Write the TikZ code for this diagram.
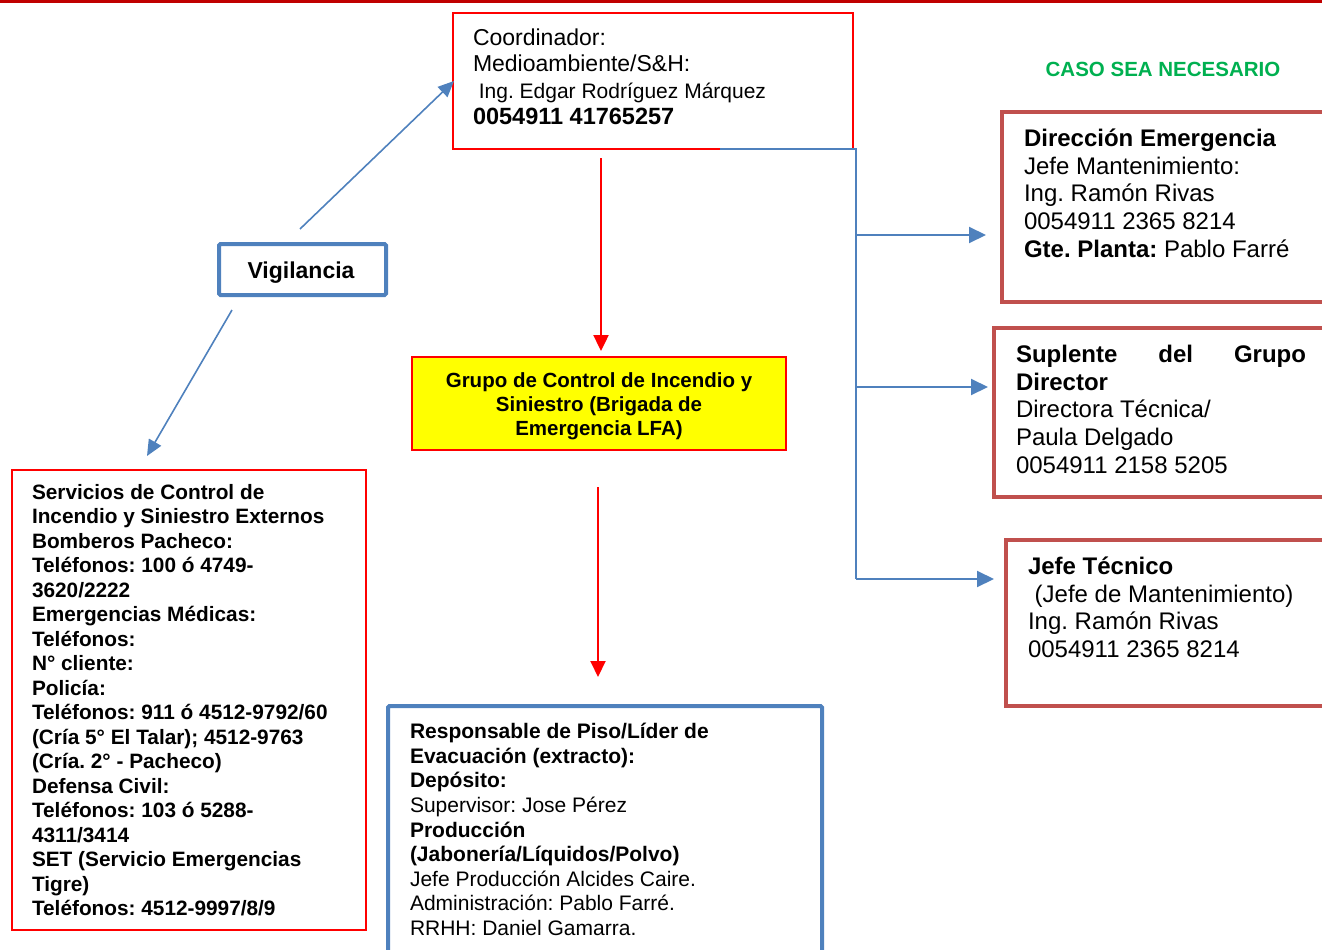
\documentclass[tikz,border=0pt]{standalone}
\usepackage{fontspec}
\setmainfont{Liberation Sans}
\usetikzlibrary{arrows.meta}
\definecolor{barred}{HTML}{C00000}
\definecolor{pure}{HTML}{FF0000}
\definecolor{ofblue}{HTML}{4F81BD}
\definecolor{ofred}{HTML}{C0504D}
\definecolor{ofgreen}{HTML}{00B050}
\definecolor{ofyellow}{HTML}{FFFF00}
\frenchspacing
\begin{document}
\begin{tikzpicture}[x=1pt,y=-1pt,
  box/.style={draw, rectangle, inner sep=0pt, outer sep=0pt, anchor=north west},
  redthin/.style={box, draw=pure, line width=1.6pt},
  redthick/.style={box, draw=ofred, line width=4pt},
  bluethick/.style={box, draw=ofblue, line width=4pt, rounded corners=1.5pt},
  txt/.style={inner sep=0pt, outer sep=0pt, anchor=north west, align=left},
  bconn/.style={draw=ofblue, line width=2pt},
  barrow/.style={draw=ofblue, line width=2pt, -{Triangle[length=17pt,width=16pt]}, fill=ofblue},
  varrow/.style={draw=ofblue, line width=1.6pt, -{Triangle[length=16pt,width=14pt]}, fill=ofblue},
  rarrow/.style={draw=pure, line width=2.4pt, -{Triangle[length=16pt,width=15pt]}, fill=pure}
]
\useasboundingbox (0,0) rectangle (1322,950);
\clip (0,0) rectangle (1322,950);

% top bar
\fill[barred] (0,0) rectangle (1322,3);

% boxes
\node[redthin, minimum width=400pt, minimum height=136pt] (coord) at (453,13) {};
\node[bluethick, minimum width=167pt, minimum height=51pt] (vig) at (219,244) {};
\node[redthin, fill=ofyellow, line width=2pt, minimum width=374pt, minimum height=93pt] (grupo) at (412,357) {};
\node[redthin, minimum width=354pt, minimum height=460pt] (ext) at (12,470) {};
\node[bluethick, minimum width=434pt, minimum height=260pt] (resp) at (388,706) {};
\node[redthick, minimum width=340pt, minimum height=190pt] (dir) at (1002,112) {};
\node[redthick, minimum width=350pt, minimum height=169pt] (sup) at (994,328) {};
\node[redthick, minimum width=340pt, minimum height=166pt] (jefe) at (1006,540) {};

% texts
\node[txt, font=\fontsize{23}{26.5}\selectfont] (coordtxt) at (473,26.7)
  {\strut Coordinador:\\
   Medioambiente/S\&H:\\
   {\fontsize{21}{26.5}\selectfont\ Ing. Edgar Rodríguez Márquez}\\
   {\fontsize{23.5}{26.5}\selectfont\bfseries 0054911 41765257}};

\node[anchor=base, inner sep=0pt, font=\fontsize{23}{27}\selectfont\bfseries] (vigtxt) at (301,278.3) {Vigilancia};

\node[anchor=base, inner sep=0pt, text=ofgreen, font=\fontsize{20.5}{24}\selectfont\bfseries] (caso) at (1163,76.2) {CASO SEA NECESARIO};

\node[anchor=north, inner sep=0pt, align=center, font=\fontsize{20.5}{24}\selectfont\bfseries] (grupotxt) at (599,370.6)
  {\strut Grupo de Control de Incendio y\\
   Siniestro (Brigada de\\
   Emergencia LFA)};

\node[txt, font=\fontsize{20.8}{24.5}\selectfont\bfseries] (exttxt) at (32,482.2)
  {\strut Servicios de Control de\\
   Incendio y Siniestro Externos\\
   Bomberos Pacheco:\\
   Teléfonos: 100 ó 4749-\\
   3620/2222\\
   Emergencias Médicas:\\
   Teléfonos:\\
   N° cliente:\\
   Policía:\\
   Teléfonos: 911 ó 4512-9792/60\\
   (Cría 5° El Talar); 4512-9763\\
   (Cría. 2° - Pacheco)\\
   Defensa Civil:\\
   Teléfonos: 103 ó 5288-\\
   4311/3414\\
   SET (Servicio Emergencias\\
   Tigre)\\
   Teléfonos: 4512-9997/8/9};

\node[txt, font=\fontsize{21}{24.6}\selectfont] (resptxt) at (410,721.4)
  {\strut\textbf{Responsable de Piso/Líder de}\\
   \textbf{Evacuación (extracto):}\\
   \textbf{Depósito:}\\
   Supervisor: Jose Pérez\\
   \textbf{Producción}\\
   \textbf{(Jabonería/Líquidos/Polvo)}\\
   Jefe Producción Alcides Caire.\\
   Administración: Pablo Farré.\\
   RRHH: Daniel Gamarra.};

\node[txt, font=\fontsize{24}{27.7}\selectfont] (dirtxt) at (1024,127.2)
  {\strut\textbf{Dirección Emergencia}\\
   Jefe Mantenimiento:\\
   Ing. Ramón Rivas\\
   0054911 2365 8214\\
   \textbf{Gte. Planta:} Pablo Farré};

\node[txt, font=\fontsize{24}{27.7}\selectfont] (suptxt) at (1016,343.2)
  {\strut\hbox to 290pt{\bfseries Suplente\hfill del\hfill Grupo}\\
   \textbf{Director}\\
   Directora Técnica/\\
   Paula Delgado\\
   0054911 2158 5205};

\node[txt, font=\fontsize{24}{27.7}\selectfont] (jefetxt) at (1028,555.2)
  {\strut\textbf{Jefe Técnico}\\
   \ (Jefe de Mantenimiento)\\
   Ing. Ramón Rivas\\
   0054911 2365 8214};

% connector coordinates
\coordinate (bstart) at (720,149);
\coordinate (spine) at (856,149);
\coordinate (sp1) at (856,235);
\coordinate (sp2) at (856,387);
\coordinate (sp3) at (856,579);
\coordinate (e1) at (986,235);
\coordinate (e2) at (988,387);
\coordinate (e3) at (994,579);
\coordinate (v1s) at (300,229);
\coordinate (v1e) at (454,81);
\coordinate (v2s) at (232,310);
\coordinate (v2e) at (147,456);
\coordinate (r1s) at (601,158);
\coordinate (r1e) at (601,351);
\coordinate (r2s) at (598,487);
\coordinate (r2e) at (598,677);

% blue connectors on the right
\draw[bconn, line join=miter] (bstart) -- (spine) -- (sp3);
\draw[barrow] (sp1) -- (e1);
\draw[barrow] (sp2) -- (e2);
\draw[barrow] (sp3) -- (e3);

% Vigilancia arrows
\draw[varrow] (v1s) -- (v1e);
\draw[varrow] (v2s) -- (v2e);

% red arrows
\draw[rarrow] (r1s) -- (r1e);
\draw[rarrow, line width=2pt] (r2s) -- (r2e);
\end{tikzpicture}
\end{document}
